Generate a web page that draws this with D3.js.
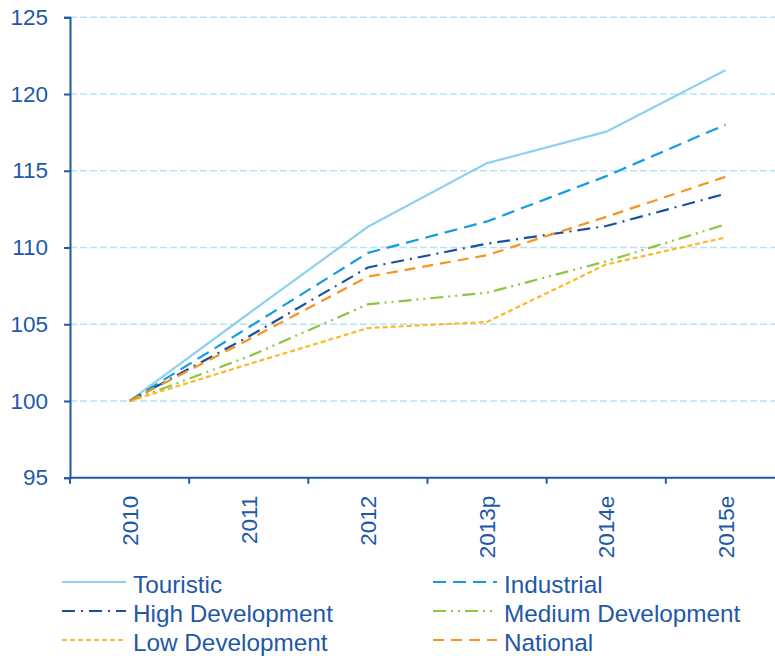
<!DOCTYPE html>
<html>
<head>
<meta charset="utf-8">
<script src="https://cdn.jsdelivr.net/npm/d3@7"></script>
<style>
  html, body { margin: 0; padding: 0; background: #fff; }
  svg { display: block; font-family: "Liberation Sans", Arial, sans-serif; }
</style>
</head>
<body>
<svg id="chart" width="775" height="656"></svg>
<script>
// Index values, base year 2010 = 100
const years = ["2010", "2011", "2012", "2013p", "2014e", "2015e"];
const touristic        = [100, 105.7, 111.35, 115.5, 117.55, 121.55];
const industrial       = [100, 104.8, 109.65, 111.7, 114.65, 118.0];
const highDevelopment  = [100, 104.2, 108.7, 110.25, 111.4, 113.5];
const mediumDevelopment= [100, 102.9, 106.3, 107.05, 109.1, 111.5];
const lowDevelopment   = [100, 102.4, 104.75, 105.15, 108.9, 110.65];
const national         = [100, 104.0, 108.1, 109.5, 112.0, 114.6];
const yTicks = [95, 100, 105, 110, 115, 120, 125];

const seriesNames = ["Touristic", "Industrial", "High Development", "Medium Development", "Low Development", "National"];
const seriesValues = [touristic, industrial, highDevelopment, mediumDevelopment, lowDevelopment, national];
const seriesStyle = [
  { color: "#8fd0f0", dash: null },
  { color: "#119de2", dash: "13,7" },
  { color: "#1a4f9e", dash: "13,6,2,6" },
  { color: "#8cc63f", dash: "13,5,2,5,2,5" },
  { color: "#fdb827", dash: "5,3" },
  { color: "#f7941d", dash: "11,7" }
];

const axisColor = "#1f58a8";
const svg = d3.select("#chart");

const x = d3.scaleBand().domain(years).range([70, 785]);
const y = d3.scaleLinear().domain([95, 125]).range([477.7, 17.3]);
const cx = d => x(d) + x.bandwidth() / 2;

// horizontal gridlines
svg.append("g").selectAll("line")
  .data(yTicks.filter(t => t > 95))
  .join("line")
  .attr("x1", 70).attr("x2", 775)
  .attr("y1", d => y(d)).attr("y2", d => y(d))
  .attr("stroke", "#b3e3f7").attr("stroke-width", 1.6)
  .attr("stroke-dasharray", "7,3");

// y axis
const yAxis = svg.append("g")
  .attr("transform", "translate(70,0)")
  .call(d3.axisLeft(y).tickValues(yTicks).tickSize(6).tickPadding(16).tickFormat(d3.format("d")));
yAxis.select(".domain").attr("stroke", axisColor).attr("stroke-width", 2);
yAxis.selectAll(".tick line").attr("stroke", axisColor).attr("stroke-width", 2);
yAxis.selectAll(".tick text").attr("fill", axisColor).attr("font-size", 22.5)
  .attr("font-family", "Liberation Sans, Arial, sans-serif");

// x axis (category boundaries carry the ticks)
const xAxisG = svg.append("g").attr("transform", `translate(0,${y(95)})`);
xAxisG.append("line").attr("x1", 70).attr("x2", 785)
  .attr("stroke", axisColor).attr("stroke-width", 2);
xAxisG.selectAll("line.tk")
  .data(years.concat(["end"]))
  .join("line").attr("class", "tk")
  .attr("x1", (d, i) => 70 + i * x.bandwidth())
  .attr("x2", (d, i) => 70 + i * x.bandwidth())
  .attr("y1", 0).attr("y2", 6)
  .attr("stroke", axisColor).attr("stroke-width", 2);
xAxisG.selectAll("text")
  .data(years)
  .join("text")
  .attr("transform", d => `translate(${cx(d)},18) rotate(-90)`)
  .attr("text-anchor", "end")
  .attr("dy", "0.36em")
  .attr("fill", axisColor)
  .attr("font-size", 22.5)
  .text(d => d);

// series lines
const line = d3.line().x((d, i) => cx(years[i])).y(d => y(d));
svg.append("g").selectAll("path")
  .data(seriesValues)
  .join("path")
  .attr("d", d => line(d))
  .attr("fill", "none")
  .attr("stroke", (d, i) => seriesStyle[i].color)
  .attr("stroke-width", 2.2)
  .attr("stroke-dasharray", (d, i) => seriesStyle[i].dash);

// legend: two columns, three rows
const legend = svg.append("g");
const colX = [62, 433];
const rowY = [582, 611, 640];
seriesNames.forEach((name, i) => {
  const lx = colX[i % 2];
  const ly = rowY[Math.floor(i / 2)];
  legend.append("line")
    .attr("x1", lx).attr("x2", lx + 64)
    .attr("y1", ly).attr("y2", ly)
    .attr("stroke", seriesStyle[i].color)
    .attr("stroke-width", 2.2)
    .attr("stroke-dasharray", seriesStyle[i].dash);
  legend.append("text")
    .attr("x", lx + 71).attr("y", ly + 2)
    .attr("dy", "0.35em")
    .attr("fill", axisColor)
    .attr("font-size", 24.3)
    .text(name);
});
</script>
</body>
</html>
